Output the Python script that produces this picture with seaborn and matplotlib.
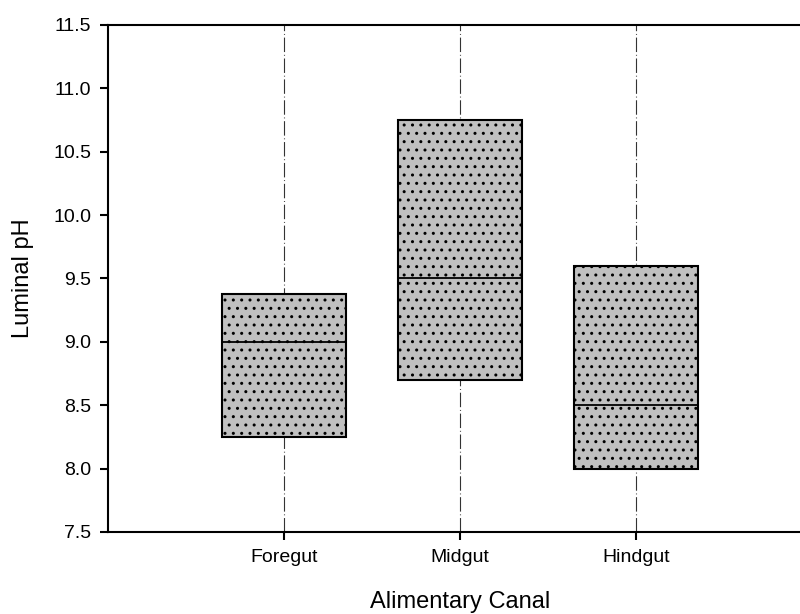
import pandas as pd
import matplotlib.pyplot as plt
import seaborn as sns

# Kvartiler lest av figuren
categories = ["Foregut", "Midgut", "Hindgut"]
q1 = [8.25, 8.70, 8.00]
median = [9.00, 9.50, 8.50]
q3 = [9.375, 10.75, 9.60]

sns.set_style("ticks")
plt.rcParams["font.family"] = ["Liberation Sans", "DejaVu Sans"]

# Lag data som gir nøyaktig disse kvartilene
rows = []
for cat, a, m, b in zip(categories, q1, median, q3):
    for v in [a, a, m, b, b]:
        rows.append({"canal": cat, "pH": v})
df = pd.DataFrame(rows)

fig = plt.figure(figsize=(8, 6.14), dpi=100)
ax = fig.add_axes([0.135, 0.1336, 0.88, 0.8257])

sns.boxplot(data=df, x="canal", y="pH", order=categories, ax=ax,
            width=0.7, whis=0, showcaps=False, showfliers=False,
            color="#c0c0c0", saturation=1,
            boxprops={"edgecolor": "black", "linewidth": 1.5},
            medianprops={"color": "black", "linewidth": 1.3},
            whiskerprops={"linewidth": 0})

for patch in ax.patches:
    patch.set_hatch("..")
    patch.set_zorder(3)
for line in ax.lines:
    line.set_zorder(4)

# Stiplede vertikale linjer ved hver kategori
ax.xaxis.grid(True, color="#333333", linewidth=0.8, dashes=(13, 2.5, 0.8, 2.5))
ax.set_axisbelow(True)

ax.set_xlim(-1, 3)
ax.set_ylim(7.5, 11.5)
ax.set_yticks([7.5, 8.0, 8.5, 9.0, 9.5, 10.0, 10.5, 11.0, 11.5])
ax.set_yticklabels([f"{v:.1f}" for v in ax.get_yticks()])

ax.spines["right"].set_visible(False)
for s in ["left", "bottom", "top"]:
    ax.spines[s].set_linewidth(1.5)
    ax.spines[s].set_color("black")

ax.tick_params(axis="both", direction="out", length=6, width=1.5,
               labelsize=14, colors="black", pad=6)
ax.set_xlabel("Alimentary Canal", fontsize=17, labelpad=18, color="black")
ax.set_ylabel("Luminal pH", fontsize=17, labelpad=14, color="black")

fig.savefig("out.png", dpi=100)
